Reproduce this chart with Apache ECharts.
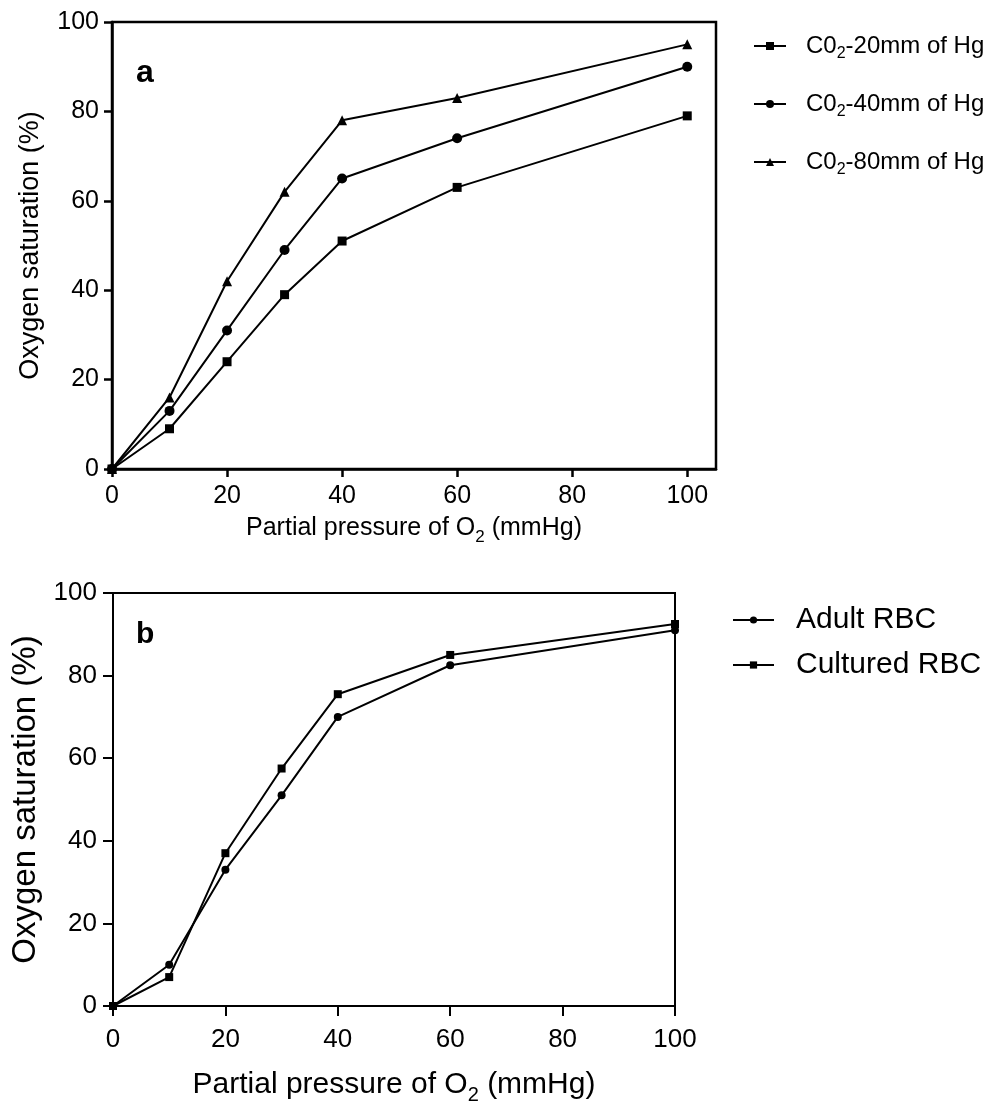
<!DOCTYPE html>
<html>
<head>
<meta charset="utf-8">
<script src="https://cdn.jsdelivr.net/npm/echarts@6/dist/echarts.min.js"></script>
<style>
html, body {margin: 0; padding: 0; background: #fff;}
#main {width: 990px; height: 1106px;}
</style>
</head>
<body>
<div id="main"></div>
<script>
/* Panel a: saturation at three CO2 levels. */
var pressureA = [0, 10, 20, 30, 40, 60, 100];
var co2At20   = [0, 9, 24, 39, 51, 63, 79];
var co2At40   = [0, 13, 31, 49, 65, 74, 90];
var co2At80   = [0, 16, 42, 62, 78, 83, 95];
var legendA   = ['C02-20mm of Hg', 'C02-40mm of Hg', 'C02-80mm of Hg'];

/* Panel b: adult vs cultured red cells. */
var pressureB   = [0, 10, 20, 30, 40, 60, 100];
var adultRbc    = [0, 10, 33, 51, 70, 82.5, 91];
var culturedRbc = [0, 7, 37, 57.5, 75.5, 85, 92.5];
var legendB     = ['Adult RBC', 'Cultured RBC'];

var xTicks = [0, 20, 40, 60, 80, 100];

var fontFamily = 'Liberation Sans, Arial, sans-serif';

/**
 * Zip x and y arrays into points.
 */
function toPoints(xs, ys)
{
    return xs.map(function(x, i){ return [x, ys[i]]; });
}

/**
 * Build rich text styles with a subscript of given base size.
 */
function subRich(size)
{
    var subSize = Math.round(size * 0.68);
    return {
        n:   {fontSize: size, fontFamily: fontFamily, color: '#000', lineHeight: size, verticalAlign: 'top'},
        sub: {fontSize: subSize, fontFamily: fontFamily, color: '#000', lineHeight: subSize, verticalAlign: 'top', padding: [Math.round(size * 0.5), 0, 0, 0]}
    };
}

function lineSeries(name, xIndex, xs, ys, symbol, size)
{
    return {
        name: name,
        type: 'line',
        xAxisIndex: xIndex,
        yAxisIndex: xIndex,
        data: toPoints(xs, ys),
        symbol: symbol,
        symbolSize: size,
        clip: false,
        lineStyle: {color: '#000', width: 2},
        itemStyle: {color: '#000'},
        z: 5
    };
}

function xAxisOf(gridIndex, max, nameText, nameSize, nameGap, tickLen, lineWidth, labelSize, labelMargin)
{
    return {
        type: 'value',
        gridIndex: gridIndex,
        min: 0,
        max: max,
        name: nameText,
        nameLocation: 'middle',
        nameGap: nameGap,
        nameTextStyle: {rich: subRich(nameSize)},
        axisLine: {show: true, onZero: false, lineStyle: {color: '#000', width: lineWidth}},
        axisTick: {show: true, length: tickLen, customValues: xTicks, lineStyle: {color: '#000', width: lineWidth}},
        axisLabel: {customValues: xTicks, color: '#000', fontSize: labelSize, fontFamily: fontFamily, margin: labelMargin},
        splitLine: {show: false}
    };
}

function yAxisOf(gridIndex, nameSize, nameGap, tickLen, lineWidth, labelSize, labelMargin)
{
    return {
        type: 'value',
        gridIndex: gridIndex,
        min: 0,
        max: 100,
        interval: 20,
        name: 'Oxygen saturation (%)',
        nameLocation: 'middle',
        nameGap: nameGap,
        nameTextStyle: {color: '#000', fontSize: nameSize, fontFamily: fontFamily},
        axisLine: {show: true, onZero: false, lineStyle: {color: '#000', width: lineWidth}},
        axisTick: {show: true, length: tickLen, lineStyle: {color: '#000', width: lineWidth}},
        axisLabel: {color: '#000', fontSize: labelSize, fontFamily: fontFamily, margin: labelMargin},
        splitLine: {show: false}
    };
}

/**
 * Draw both oxygen saturation panels.
 */
function drawSaturationChart(id)
{
    var chart = echarts.init(document.getElementById(id), null, {renderer: 'canvas'});

    var option = {
        backgroundColor: '#fff',
        animation: false,
        title: [
            {text: 'a', left: 136, top: 57, padding: 0, textStyle: {fontSize: 32, fontWeight: 'bold', color: '#000', fontFamily: fontFamily}},
            {text: 'b', left: 136, top: 620, padding: 0, textStyle: {fontSize: 30, fontWeight: 'bold', color: '#000', fontFamily: fontFamily}}
        ],
        legend: [
            {
                data: legendA,
                orient: 'vertical',
                left: 753,
                top: 34,
                itemWidth: 32,
                itemHeight: 10,
                itemGap: 30,
                padding: 0,
                formatter: function(name){ return '{n|C0}{sub|2}{n|' + name.slice(3) + '}'; },
                textStyle: {padding: [0, 0, 0, 15], rich: subRich(24)}
            },
            {
                data: legendB,
                orient: 'vertical',
                left: 732,
                top: 605,
                itemWidth: 41,
                itemHeight: 9,
                itemGap: 15,
                padding: 0,
                textStyle: {padding: [0, 0, 0, 17], color: '#000', fontSize: 30, fontFamily: fontFamily}
            }
        ],
        grid: [
            {left: 112, top: 22, width: 604, height: 447, show: true, borderColor: '#000', borderWidth: 2.5, backgroundColor: '#fff'},
            {left: 113, top: 593, width: 562, height: 416, show: true, borderColor: '#000', borderWidth: 2, backgroundColor: '#fff'}
        ],
        xAxis: [
            xAxisOf(0, 105, '{n|Partial pressure of O}{sub|2}{n| (mmHg)}', 25, 47, 8, 2.5, 25, 15),
            xAxisOf(1, 100, '{n|Partial pressure of O}{sub|2}{n| (mmHg)}', 30, 64, 10, 2, 26, 21)
        ],
        yAxis: [
            yAxisOf(0, 27, 68, 8, 2.5, 25, 13),
            yAxisOf(1, 33, 68, 10, 2, 26, 16)
        ],
        series: [
            lineSeries(legendA[0], 0, pressureA, co2At20, 'rect', 9),
            lineSeries(legendA[1], 0, pressureA, co2At40, 'circle', 10),
            lineSeries(legendA[2], 0, pressureA, co2At80, 'triangle', 10),
            lineSeries(legendB[0], 1, pressureB, adultRbc, 'circle', 8),
            lineSeries(legendB[1], 1, pressureB, culturedRbc, 'rect', 8)
        ]
    };
    chart.setOption(option);

    return chart;
}

drawSaturationChart('main');
</script>
</body>
</html>
